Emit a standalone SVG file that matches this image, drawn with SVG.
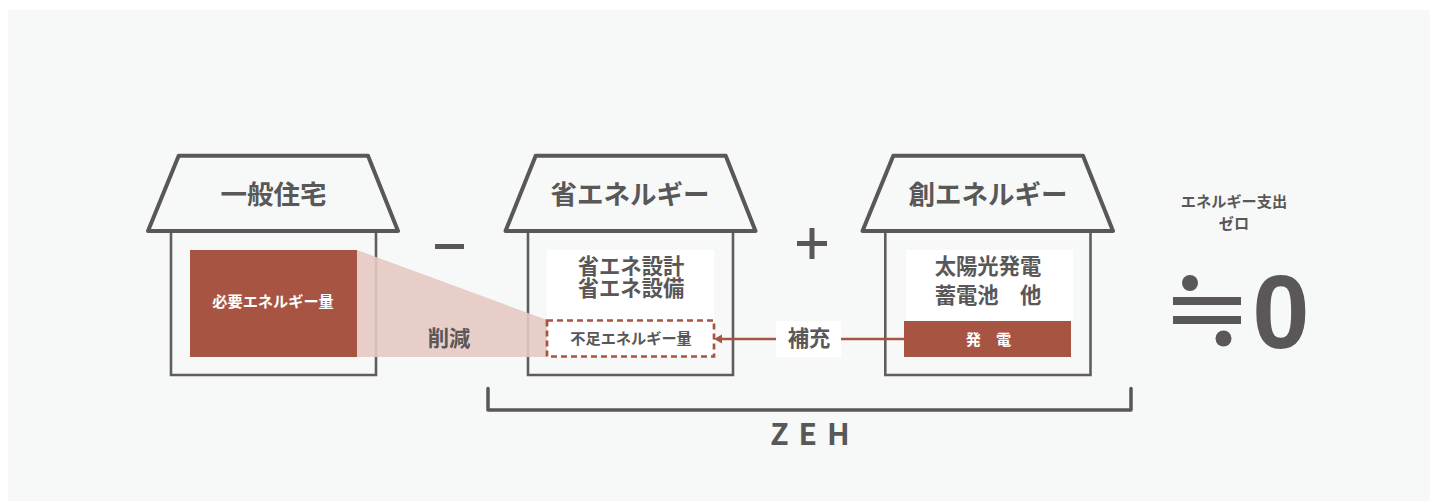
<svg xmlns="http://www.w3.org/2000/svg" width="1430" height="501" viewBox="0 0 1430 501">
<style>
text{font-family:"Noto Sans CJK JP","Noto Sans",sans-serif;font-weight:700;fill:#595757;text-anchor:middle}
.roof{fill:none;stroke:#595757;stroke-width:4;stroke-linejoin:round}
.body{fill:none;stroke:#5f5d5d;stroke-width:2.600;stroke-linejoin:miter}
.t26{font-size:26.500px}.t21{font-size:21.300px}.t15{font-size:15.200px}
.w{fill:#fff}.r{fill:#a75542}.g{fill:#595757}
</style>
<defs>
<marker id="ah" markerUnits="userSpaceOnUse" markerWidth="10" markerHeight="10" refX="1" refY="5" orient="auto"><path d="M9 0.5L1 5L9 9.5Z" fill="#a75542" transform="rotate(180 5 5)"/></marker>
</defs>
<rect x="8" y="10" width="1422" height="491" fill="#f7f9f8"/>
<g id="house-general">
<path class="body" d="M171 231V375H376V231"/>
<path class="roof" d="M178.700 155.700H368L398 231H148Z"/>
<text class="t26" x="273.500" y="204">一般住宅</text>
<rect class="r" x="190" y="250" width="167" height="107"/>
<text class="t15" x="273" y="307" style="fill:#fff">必要エネルギー量</text>
</g>
<g id="house-saving">
<path class="body" d="M528 231V375H733V231"/>
<path class="roof" d="M535.700 155.700H725.700L755.500 231H505.500Z"/>
<text class="t26" x="630" y="204">省エネルギー</text>
<rect class="w" x="547" y="250" width="167" height="107"/>
<text class="t21" x="631" y="274">省エネ設計</text>
<text class="t21" x="631" y="296">省エネ設備</text>
</g>
<g id="house-creation">
<path class="body" d="M885.300 231V375H1090.500V231"/>
<path class="roof" d="M893.300 155.700H1083L1113 231H862.500Z"/>
<text class="t26" x="988" y="204">創エネルギー</text>
<rect class="w" x="906" y="250" width="167" height="72"/>
<text class="t21" x="988" y="274">太陽光発電</text>
<text class="t21" x="988" y="303">蓄電池　他</text>
<rect class="r" x="904" y="321" width="167" height="36"/>
<text class="t15" x="988.500" y="345" style="fill:#fff">発　電</text>
</g>
<g id="connectors">
<path d="M357 250L547 320V357H357Z" fill="#e6c9c3" fill-opacity=".9"/>
<path d="M904 339H722" fill="none" stroke="#a75542" stroke-width="2.600" marker-end="url(#ah)"/>
<path d="M488 388.500V410H1131V388.500" fill="none" stroke="#595757" stroke-width="3.500" stroke-linejoin="round" stroke-linecap="round"/>
</g>
<g id="deficit">
<rect x="547" y="320.500" width="167" height="36" fill="#fff" stroke="#a75542" stroke-width="2.700" stroke-dasharray="6 4"/>
<text class="t15" x="631" y="344">不足エネルギー量</text>
</g>
<g id="label-reduction"><text class="t21" x="449" y="346">削減</text></g>
<g id="label-supply">
<rect class="w" x="776" y="321" width="65" height="36"/>
<text class="t21" x="809" y="346">補充</text>
</g>
<g id="minus"><rect class="g" x="435" y="244" width="29" height="5"/></g>
<g id="plus"><rect class="g" x="797" y="241" width="30" height="5"/><rect class="g" x="809.500" y="228" width="5" height="31"/></g>
<g id="label-zeh"><text x="815" y="445" style="font-size:30px;letter-spacing:10px">ZEH</text></g>
<g id="result">
<text class="t15" x="1234" y="207">エネルギー支出</text>
<text class="t15" x="1234" y="229">ゼロ</text>
<circle class="g" cx="1190" cy="283" r="8"/>
<rect class="g" x="1173" y="297" width="68" height="8"/>
<rect class="g" x="1173" y="316" width="68" height="8"/>
<circle class="g" cx="1223.500" cy="338.500" r="8"/>
<text x="1281" y="348" style="font-family:'Liberation Sans',sans-serif;font-weight:700;font-size:103px">0</text>
</g>
</svg>
